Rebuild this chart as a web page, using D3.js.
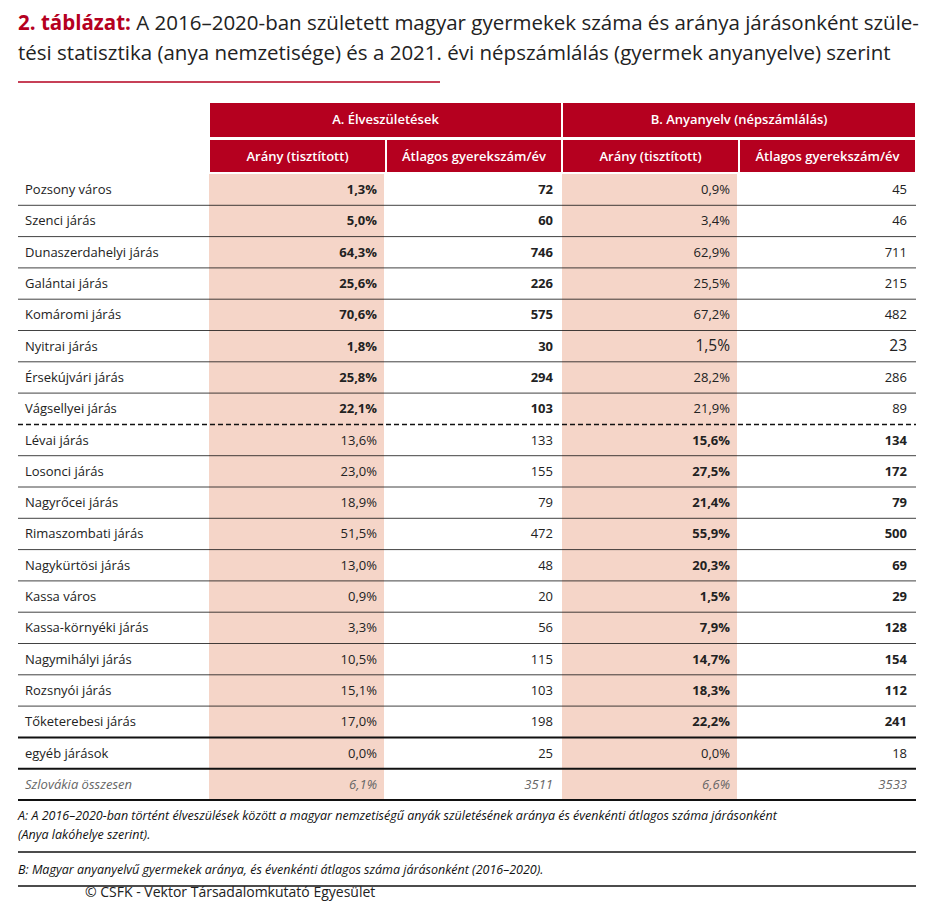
<!DOCTYPE html>
<html><head><meta charset="utf-8">
<script src="https://cdn.jsdelivr.net/npm/d3@7"></script>
<style>
body{margin:0;background:#fff;font-family:"Open Sans",sans-serif;}
</style></head><body>
<svg id="t" width="938" height="904"></svg>
<script>
const districts = ["Pozsony város","Szenci járás","Dunaszerdahelyi járás","Galántai járás","Komáromi járás","Nyitrai járás","Érsekújvári járás","Vágsellyei járás","Lévai járás","Losonci járás","Nagyrőcei járás","Rimaszombati járás","Nagykürtösi járás","Kassa város","Kassa-környéki járás","Nagymihályi járás","Rozsnyói járás","Tőketerebesi járás","egyéb járások","Szlovákia összesen"];
const birthShare = ["1,3%","5,0%","64,3%","25,6%","70,6%","1,8%","25,8%","22,1%","13,6%","23,0%","18,9%","51,5%","13,0%","0,9%","3,3%","10,5%","15,1%","17,0%","0,0%","6,1%"];
const birthCount = [72,60,746,226,575,30,294,103,133,155,79,472,48,20,56,115,103,198,25,3511];
const langShare = ["0,9%","3,4%","62,9%","25,5%","67,2%","1,5%","28,2%","21,9%","15,6%","27,5%","21,4%","55,9%","20,3%","1,5%","7,9%","14,7%","18,3%","22,2%","0,0%","6,6%"];
const langCount = [45,46,711,215,482,23,286,89,134,172,79,500,69,29,128,154,112,241,18,3533];
const groupHeaders = ["A. Élveszületések","B. Anyanyelv (népszámlálás)"];
const subHeaders = ["Arány (tisztított)","Átlagos gyerekszám/év","Arány (tisztított)","Átlagos gyerekszám/év"];
const footnotes = [["A: A 2016–2020-ban történt élveszülések között a magyar nemzetiségű anyák születésének aránya és évenkénti átlagos száma járásonként","(Anya lakóhelye szerint)."],["B: Magyar anyanyelvű gyermekek aránya, és évenkénti átlagos száma járásonként (2016–2020)."]];

const red = "#b5001f", pink = "#f5d5c8";
const svg = d3.select("#t");
const L = 18, R = 916;
const colEdges = [18, 209, 386, 562, 739, 916];
const rowY = d3.scaleLinear().domain([0, 1]).range([174, 205.3]);
const rowH = rowY(1) - rowY(0);

// title
const title = svg.append("text").attr("x", L).attr("y", 30).attr("font-size", 20.5).attr("fill", "#222");
title.append("tspan").attr("fill", red).attr("font-weight", 700).text("2. táblázat: ");
title.append("tspan").text("A 2016–2020-ban született magyar gyermekek száma és aránya járásonként szüle-");
svg.append("text").attr("x", L).attr("y", 60).attr("font-size", 20.5).attr("fill", "#222")
  .text("tési statisztika (anya nemzetisége) és a 2021. évi népszámlálás (gyermek anyanyelve) szerint");
svg.append("line").attr("x1", L).attr("x2", 440).attr("y1", 82).attr("y2", 82).attr("stroke", red).attr("stroke-width", 1.5);

// pink columns
[1, 3].forEach(c => svg.append("rect").attr("x", colEdges[c]).attr("width", colEdges[c+1] - colEdges[c] - 2)
  .attr("y", rowY(0)).attr("height", rowY(districts.length) - rowY(0)).attr("fill", pink));

// headers
groupHeaders.forEach((h, i) => {
  const x0 = colEdges[1 + 2*i] + 1, x1 = colEdges[3 + 2*i] - 1;
  svg.append("rect").attr("x", x0).attr("y", 103).attr("width", x1 - x0).attr("height", 34).attr("fill", red);
  svg.append("text").attr("x", (x0+x1)/2).attr("y", 124).attr("text-anchor", "middle").attr("fill", "#fff")
    .attr("font-size", 13).attr("font-weight", 600).text(h);
});
subHeaders.forEach((h, i) => {
  const x0 = colEdges[1+i] + 1, x1 = colEdges[2+i] - 1;
  svg.append("rect").attr("x", x0).attr("y", 140).attr("width", x1 - x0).attr("height", 32).attr("fill", red);
  svg.append("text").attr("x", (x0+x1)/2).attr("y", 161).attr("text-anchor", "middle").attr("fill", "#fff")
    .attr("font-size", 13).attr("font-weight", 600).text(h);
});

// rows
const cols = [birthShare, birthCount, langShare, langCount];
districts.forEach((d, i) => {
  const yMid = rowY(i) + rowH/2 + 4.5;
  const total = i === districts.length - 1;
  svg.append("text").attr("x", 25).attr("y", yMid).attr("font-size", 13)
    .attr("fill", total ? "#666" : "#222").attr("font-style", total ? "italic" : null).text(d);
  cols.forEach((arr, c) => {
    const bold = (i < 8 && c < 2) || (i >= 8 && i < 18 && c >= 2);
    const big = i === 5 && c >= 2;
    svg.append("text").attr("x", colEdges[c+2] - 9).attr("y", yMid).attr("text-anchor", "end")
      .attr("font-size", big ? 15.5 : 13).attr("font-weight", bold ? 700 : 400)
      .attr("fill", total ? "#666" : "#222").attr("font-style", total ? "italic" : null).text(arr[i]);
  });
  // separator below row
  const yb = rowY(i+1);
  const sep = svg.append("line").attr("x1", L).attr("x2", R).attr("y1", yb).attr("y2", yb).attr("stroke", "#111");
  if (i === 7) sep.attr("stroke-dasharray", "5,3").attr("stroke-width", 1.5);
  else if (i >= 17) sep.attr("stroke-width", 2);
  else sep.attr("stroke-width", 0.8);
});

// footnotes
const fy = rowY(districts.length);
footnotes.forEach((lines, k) => {
  const y0 = k === 0 ? fy + 20 : fy + 74;
  lines.forEach((t, j) => svg.append("text").attr("x", L).attr("y", y0 + j*19).attr("font-size", 12.5)
    .attr("font-style", "italic").attr("fill", "#111").text(t));
});
[fy + 52, fy + 86].forEach(y => svg.append("line").attr("x1", L).attr("x2", R).attr("y1", y).attr("y2", y)
  .attr("stroke", "#111").attr("stroke-width", 1.3));
svg.append("text").attr("x", 85).attr("y", fy + 97).attr("font-size", 14).attr("fill", "#222")
  .text("© CSFK - Vektor Társadalomkutató Egyesület");
</script></body></html>
